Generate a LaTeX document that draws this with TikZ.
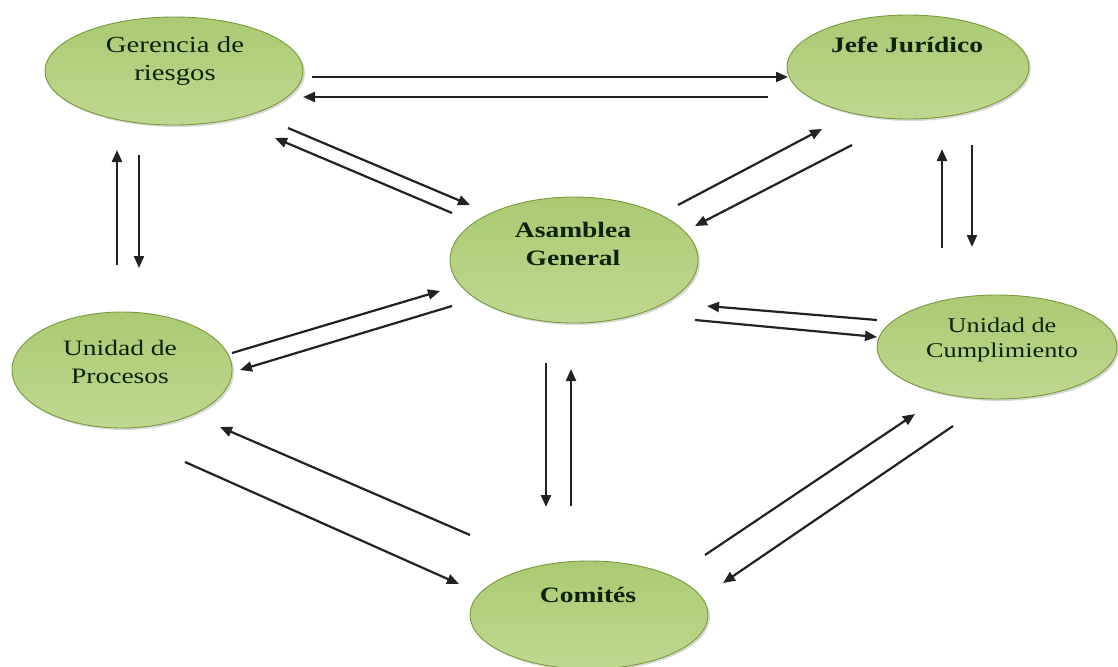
\documentclass[tikz,border=0pt]{standalone}
\usepackage{fontspec}
\setmainfont{Liberation Serif}[FakeStretch=1.25]
\usetikzlibrary{arrows.meta,shapes.geometric,shadows}
\definecolor{gtop}{HTML}{AACA72}
\definecolor{gmid}{HTML}{92B84C}
\definecolor{gbot}{HTML}{BFD890}
\definecolor{gedge}{HTML}{789A3C}
\definecolor{txt}{HTML}{10200A}
\definecolor{arr}{HTML}{222222}
\begin{document}
\begin{tikzpicture}[x=1pt,y=-1pt,
  bubble/.style={ellipse, draw=gedge, line width=0.9pt, top color=gtop, middle color=gmid, bottom color=gbot, inner sep=0pt,
    drop shadow={shadow xshift=2pt,shadow yshift=-2pt,opacity=0.3}},
  lbl/.style={font=\fontsize{22}{28}\selectfont, text=txt, align=center, inner sep=0pt},
  blbl/.style={lbl, font=\fontsize{22}{28}\selectfont\bfseries},
  flow/.style={draw=arr, line width=2.2pt, -{Triangle[length=12pt,width=10pt]}}]
\useasboundingbox (0,0) rectangle (1118,666);
\fill[white] (0,0) rectangle (1118,666);

% ellipses
\node[bubble, minimum width=258pt, minimum height=108pt] (ger) at (174,71) {};
\node[bubble, minimum width=242pt, minimum height=104pt] (jef) at (908,67) {};
\node[bubble, minimum width=248pt, minimum height=126pt] (asa) at (574,260) {};
\node[bubble, minimum width=220pt, minimum height=116pt] (pro) at (122,370) {};
\node[bubble, minimum width=240pt, minimum height=104pt] (cum) at (997,347) {};
\node[bubble, minimum width=238pt, minimum height=108pt] (com) at (589,615) {};

% labels
\node[lbl, font=\fontsize{23}{28}\selectfont] (gert) at (175,61) {Gerencia de\\riesgos};
\node[blbl] (jeft) at (907,45) {Jefe Jurídico};
\node[blbl] (asat) at (573,244) {Asamblea\\General};
\node[lbl] (prot) at (120,362) {Unidad de\\Procesos};
\node[lbl, font=\fontsize{21}{25}\selectfont] (cumt) at (1002,340) {Unidad de\\Cumplimiento};
\node[blbl] (comt) at (588,595) {Comités};

% connectors
\foreach \n/\sx/\sy/\ex/\ey in {
  a/312/77/788/77, b/768/97/303/97,
  c/288/128/470/205, d/452/213/275/138,
  e/678/205/822/129, f/852/145/695/226,
  g/117/265/117/150, h/139/155/139/268,
  i/942/248/942/149, j/972/145/972/247,
  k/232/353/440/291, l/452/306/240/370,
  m/877/320/707/306, n/695/320/877/337,
  o/546/363/546/507, p/571/506/571/369,
  q/470/535/220/427, r/185/462/459/584,
  s/705/555/915/414, t/953/426/723/583}{
  \coordinate (\n s) at (\sx,\sy);
  \coordinate (\n e) at (\ex,\ey);
  \draw[flow] (\n s) -- (\n e);
}
\end{tikzpicture}
\end{document}
